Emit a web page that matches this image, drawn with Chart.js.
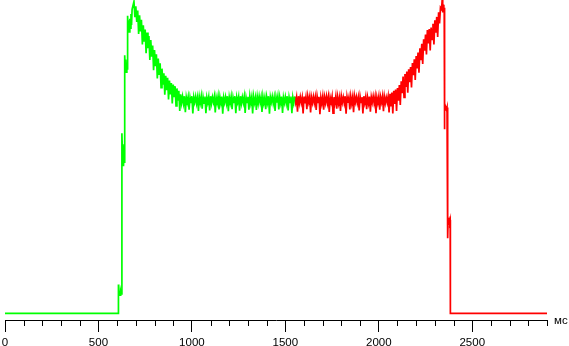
<!DOCTYPE html>
<html>
<head>
<meta charset="utf-8">
<script src="https://cdn.jsdelivr.net/npm/chart.js@4/dist/chart.umd.min.js"></script>
<style>
  html, body { margin: 0; padding: 0; background: #fff; }
  #wrap { width: 569px; height: 346px; position: relative; overflow: hidden; }
</style>
</head>
<body>
<div id="wrap"><canvas id="brightnessGraph"></canvas></div>
<script>
// time in ms, brightness in % of the peak
var greenEdgeTimes  = [0, 606, 607, 610, 613, 616, 619, 622, 625, 626, 628, 631, 634, 637, 640, 641, 643, 646, 649, 652, 655, 656, 659, 662, 665, 668, 671, 674, 677, 680];
var greenEdgeValues = [0, 0, 9.2, 6.5, 7.2, 5.8, 7.0, 6.2, 6.8, 57.5, 52.0, 54.0, 47.0, 53.0, 48.0, 82.4, 78.0, 81.0, 77.0, 80.0, 78.0, 95.0, 90.5, 93.5, 89.8, 94.0, 91.0, 95.5, 92.0, 97.0];

var sampleStep = 5;

var greenSampleStart = 690;
var greenSampleValues = [
  99.5, 94.5, 98.0, 93.0, 96.6, 89.2, 95.1, 90.0, 93.7, 85.8,
  91.9, 86.7, 90.6, 83.0, 89.6, 84.6, 88.5, 80.9, 87.2, 81.9,
  85.5, 77.6, 84.0, 78.9, 82.7, 75.0, 81.3, 76.1, 79.8, 72.0,
  78.1, 73.0, 76.6, 69.8, 75.8, 71.2, 75.2, 68.3, 74.3, 69.9,
  73.5, 67.0, 73.0, 69.0, 72.5, 66.2, 71.8, 67.9, 71.0, 64.6,
  69.9,
  67.2, 69.2, 67.0, 69.3, 64.2, 69.0, 67.3, 69.1, 65.0, 68.9,
  67.1, 69.3, 63.8, 69.0, 67.4, 69.2, 67.0, 68.9, 64.6, 69.1,
  67.2, 69.3, 65.3, 69.0, 67.1, 69.2, 63.9, 68.9, 67.3, 69.1,
  64.8, 69.3, 67.0, 69.0, 67.4, 69.2, 64.1, 68.9, 67.2, 69.3,
  65.1, 69.0, 67.1, 69.2, 63.7, 68.9, 67.3, 69.1, 67.0, 69.3,
  64.5, 69.0, 67.2, 69.2, 65.2, 68.9, 67.1, 69.3, 63.9, 69.0,
  67.4, 69.1, 64.7, 69.3, 67.0, 69.0, 67.2, 69.2, 64.0, 68.9,
  67.3, 69.1, 65.0, 69.3, 67.1, 69.0, 63.8, 69.2, 67.2, 68.9,
  64.9, 69.1, 67.0, 69.3, 67.3, 69.0, 64.3, 69.2, 67.1, 68.9,
  65.2, 69.1, 67.2, 69.3, 63.7, 69.0, 67.4, 69.2, 67.0, 68.9,
  64.6, 69.1, 67.3, 69.3, 65.1, 69.0, 67.1, 69.2, 64.0, 68.9,
  67.2, 69.1, 67.0, 69.3, 64.8, 69.0, 67.3, 69.2, 63.9, 68.9,
  67.1, 69.2
];

var redSampleStart = 1550;
var redSampleValues = [
  69.2,
  67.3, 69.0, 64.4, 69.3, 67.1, 69.1, 67.2, 68.9, 63.8, 69.2,
  67.0, 69.0, 65.2, 69.3, 67.4, 69.1, 64.1, 68.9, 67.2, 69.2,
  67.1, 69.0, 64.9, 69.3, 67.3, 69.1, 63.6, 68.9, 67.0, 69.2,
  65.0, 69.0, 67.2, 69.3, 67.1, 69.1, 64.3, 68.9, 67.4, 69.2,
  63.9, 69.0, 67.2, 69.3, 65.3, 69.1, 67.0, 68.9, 64.6, 69.2,
  67.3, 69.0, 67.1, 69.3, 63.7, 69.1, 67.2, 68.9, 65.1, 69.2,
  67.0, 69.0, 64.2, 69.3, 67.4, 69.1, 67.1, 68.9, 64.8, 69.2,
  67.3, 69.0, 63.8, 69.3, 67.2, 69.1, 65.2, 68.9, 67.0, 69.2,
  64.4, 69.0, 67.3, 69.3, 67.1, 69.1, 63.9, 68.9, 67.2, 69.2,
  65.0, 69.0, 67.4, 69.3, 64.5, 69.1, 67.1, 68.9, 67.3, 69.2,
  64.1,
  70.1, 66.0, 70.5, 63.8, 71.0, 66.8, 71.4, 64.6, 71.9, 67.9,
  72.9, 66.5, 74.1, 70.3, 75.6, 68.9, 76.4, 72.3, 77.2, 70.4,
  77.9, 73.8, 78.6, 72.1, 79.9, 76.0, 81.1, 74.5, 82.1, 78.2,
  83.2, 76.8, 84.6, 80.8, 86.0, 79.6, 87.5, 83.8, 89.0, 82.6,
  90.4, 86.1, 90.7, 83.9, 91.2, 87.4, 92.4, 85.8, 93.5, 89.6,
  94.6, 88.2, 96.1, 92.5, 97.6
];

var redEdgeTimes  = [2336, 2339, 2342, 2345, 2348, 2350, 2351, 2353, 2356, 2359, 2362, 2365, 2368, 2369, 2371, 2374, 2377, 2380, 2382, 2383, 2900];
var redEdgeValues = [97.0, 100, 96.0, 98.5, 96.8, 97.5, 58.8, 65.8, 64.9, 65.6, 65.0, 65.7, 64.9, 24.0, 30.4, 29.2, 30.0, 29.3, 29.8, 0, 0];

var majorTicks = [0, 500, 1000, 1500, 2000, 2500];
var minorStep = 100;
var axisMax = 2900;
var unitLabel = "мс";

function toPoints(times, values) {
    var pts = [];
    for (var i in values) {
        pts.push({x: times[i], y: values[i]});
    }
    return pts;
}

function sampleTimes(start, values) {
    var t = [];
    for (var i = 0; i < values.length; i++) {
        t.push(start + i * sampleStep);
    }
    return t;
}

var greenData = toPoints(greenEdgeTimes, greenEdgeValues)
    .concat(toPoints(sampleTimes(greenSampleStart, greenSampleValues), greenSampleValues));
var redData = toPoints(sampleTimes(redSampleStart, redSampleValues), redSampleValues)
    .concat(toPoints(redEdgeTimes, redEdgeValues));

// minor ticks every 100 ms and the unit at the end of the axis
var axisExtras = {
    id: "axisExtras",
    afterDraw: function(chart) {
        var ctx = chart.ctx;
        var xs = chart.scales.x;
        var bottom = chart.chartArea.bottom;
        ctx.save();
        ctx.strokeStyle = "#000";
        ctx.lineWidth = 1;
        ctx.beginPath();
        for (var t = minorStep; t <= axisMax; t += minorStep) {
            if (majorTicks.indexOf(t) >= 0) continue;
            var px = Math.round(xs.getPixelForValue(t)) + 0.5;
            ctx.moveTo(px, bottom);
            ctx.lineTo(px, bottom + 6);
        }
        ctx.stroke();
        ctx.fillStyle = "#000";
        ctx.font = "11.5px 'Liberation Sans', Arial, sans-serif";
        ctx.textBaseline = "alphabetic";
        ctx.textAlign = "left";
        ctx.fillText(unitLabel, xs.right + 7, bottom + 4);
        ctx.restore();
    }
};

var ctx = document.getElementById("brightnessGraph");

var LineGraph = new Chart(ctx, {
    type: 'line',
    data: {
        datasets: [
            {
                label: "green",
                data: greenData,
                borderColor: "#00ff00",
                borderWidth: 1.7,
                pointRadius: 0,
                tension: 0,
                fill: false
            },
            {
                label: "red",
                data: redData,
                borderColor: "#ff0000",
                borderWidth: 1.7,
                pointRadius: 0,
                tension: 0,
                fill: false
            }
        ]
    },
    options: {
        responsive: true,
        maintainAspectRatio: false,
        animation: false,
        layout: { padding: { left: 5, right: 22, top: 0, bottom: 0 } },
        plugins: {
            legend: { display: false },
            tooltip: { enabled: false }
        },
        scales: {
            x: {
                type: 'linear',
                min: 0,
                max: axisMax,
                afterBuildTicks: function(scale) {
                    scale.ticks = majorTicks.map(function(v) { return {value: v}; });
                },
                afterFit: function(scale) {
                    scale.height = 26;
                    scale.paddingLeft = 0;
                    scale.paddingRight = 0;
                },
                border: { display: true, color: "#000", width: 1 },
                grid: {
                    display: true,
                    drawOnChartArea: false,
                    drawTicks: true,
                    tickLength: 12,
                    color: "#000"
                },
                ticks: {
                    maxRotation: 0,
                    autoSkip: false,
                    padding: 5.5,
                    color: "#000",
                    font: { family: "'Liberation Sans', Arial, sans-serif", size: 11.5, lineHeight: 1 },
                    callback: function(value) { return String(value); }
                }
            },
            y: {
                display: false,
                min: -2.1,
                max: 100
            }
        }
    },
    plugins: [axisExtras]
});
</script>
</body>
</html>
